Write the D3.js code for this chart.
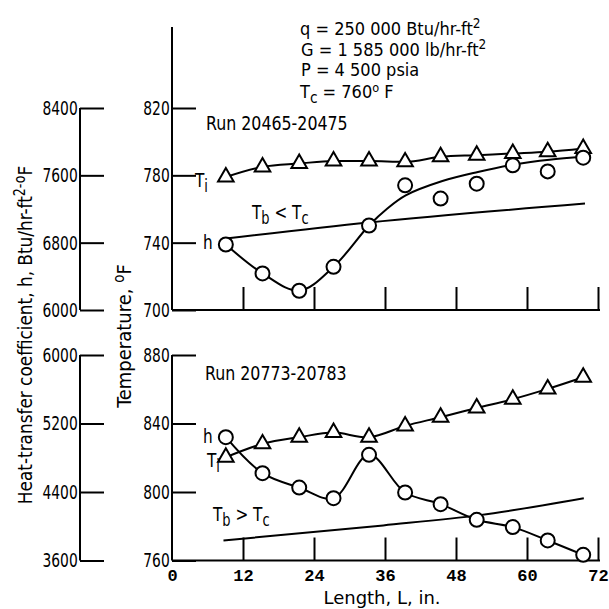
<!DOCTYPE html>
<html>
<head>
<meta charset="utf-8">
<script src="https://cdn.jsdelivr.net/npm/d3@7"></script>
<style>
  html, body { margin: 0; padding: 0; background: #fff; }
  svg text { font-family: "DejaVu Sans Condensed", "DejaVu Sans", sans-serif; font-stretch: condensed; fill: #000; }
  svg text.mono { font-family: "Liberation Mono", "DejaVu Sans Mono", monospace; font-stretch: normal; font-weight: bold; }
  svg text.wide { font-family: "DejaVu Sans", sans-serif; font-stretch: normal; }
</style>
</head>
<body>
<svg id="chart" width="609" height="609"></svg>
<script>
// ---------------- data ----------------
const xTicks = [0, 12, 24, 36, 48, 60, 72];
const tempTicksTop = [700, 740, 780, 820];
const hTicksTop = [6000, 6800, 7600, 8400];
const tempTicksBot = [760, 800, 840, 880];
const hTicksBot = [3600, 4400, 5200, 6000];

// measurement stations, L (in.)
const stations = [9.1, 15.3, 21.5, 27.3, 33.3, 39.4, 45.4, 51.5, 57.6, 63.5, 69.5];

// Run 20465-20475 (Tb < Tc)
const tiTop = [779, 785, 787, 788.5, 788.5, 788, 791, 792, 793, 794, 796];
const hTop  = [6778, 6435, 6229, 6513, 7004, 7481, 7324, 7501, 7719, 7647, 7810];
const hFitTopL = [9.1, 15.3, 21.5, 27.3, 33.3, 36.4, 39.5, 45.7, 51.7, 57.9, 63.8, 69.6];
const hFitTop  = [6778, 6435, 6229, 6513, 7004, 7206, 7362, 7532, 7640, 7730, 7786, 7820];
const tbTopL = [9.1, 33.3, 69.8];
const tbTop  = [742.5, 752, 763.2];

// Run 20773-20783 (Tb > Tc)
const tiBot = [820.3, 828.1, 832, 834.7, 832, 838.6, 843.7, 849.1, 854.2, 860.2, 867];
const hBot  = [5040, 4620, 4452, 4328, 4834, 4394, 4258, 4075, 3990, 3834, 3666];
const tbBotL = [8.7, 35.7, 52, 69.6];
const tbBot  = [771.7, 780.5, 786.5, 796.4];

// ---------------- chart ----------------
const svg = d3.select("#chart");
svg.append("rect").attr("width", 609).attr("height", 609).attr("fill", "#fff");

const x = d3.scaleLinear().domain([0, 72]).range([172, 598]);
const yT1 = d3.scaleLinear().domain([700, 820]).range([310, 108]);
const yH1 = d3.scaleLinear().domain([6000, 8400]).range([310, 108]);
const yT2 = d3.scaleLinear().domain([760, 880]).range([560.5, 355]);
const yH2 = d3.scaleLinear().domain([3600, 6000]).range([560.5, 355]);

const SW = 2;
const fs = 20;

function vAxis(scale, ticks, xPos, yTopLine) {
  const g = svg.append("g").attr("transform", `translate(${xPos},0)`)
    .call(d3.axisLeft(scale).tickValues(ticks).tickSize(-24).tickSizeOuter(0).tickPadding(3).tickFormat(d3.format("d")));
  g.attr("font-family", null).attr("font-size", null);
  g.select(".domain").remove();
  g.selectAll(".tick line").attr("stroke", "#000").attr("stroke-width", SW);
  g.selectAll(".tick text").attr("font-size", fs).attr("transform", "scale(0.77,1)");
  const r = scale.range();
  g.append("line").attr("x1", 0).attr("x2", 0)
    .attr("y1", yTopLine !== undefined ? yTopLine : Math.min(r[0], r[1])).attr("y2", Math.max(r[0], r[1]))
    .attr("stroke", "#000").attr("stroke-width", SW);
  return g;
}

vAxis(yT1, tempTicksTop, 172, 27);
vAxis(yH1, hTicksTop, 80);
vAxis(yT2, tempTicksBot, 172);
vAxis(yH2, hTicksBot, 80);

function hAxis(yPos, labels) {
  const g = svg.append("g").attr("transform", `translate(0,${yPos})`)
    .call(d3.axisTop(x).tickValues(xTicks.filter(d => d > 0)).tickSize(23).tickSizeOuter(0).tickFormat(""));
  g.select(".domain").remove();
  g.selectAll(".tick line").attr("stroke", "#000").attr("stroke-width", SW);
  g.append("line").attr("x1", x(0)).attr("x2", x(72) + 2).attr("stroke", "#000").attr("stroke-width", SW);
  if (labels) {
    const gl = svg.append("g").attr("transform", `translate(0,${yPos})`)
      .call(d3.axisBottom(x).tickValues(xTicks).tickSize(0).tickPadding(8).tickFormat(d3.format("d")));
    gl.attr("font-family", null).attr("font-size", null);
    gl.select(".domain").remove();
    gl.selectAll(".tick text").attr("class", "mono").attr("font-size", 17);
  }
}
hAxis(310, false);
hAxis(560.5, true);

// lines
function drawLine(xs, ys, yScale, curve) {
  const pts = xs.map((d, i) => [d, ys[i]]);
  svg.append("path")
    .attr("d", d3.line().x(d => x(d[0])).y(d => yScale(d[1])).curve(curve)(pts))
    .attr("fill", "none").attr("stroke", "#000").attr("stroke-width", SW);
}
drawLine(stations, tiTop, yT1, d3.curveMonotoneX);
drawLine(hFitTopL, hFitTop, yH1, d3.curveCatmullRom.alpha(0.5));
drawLine(tbTopL, tbTop, yT1, d3.curveMonotoneX);
drawLine(stations, tiBot, yT2, d3.curveCatmullRom.alpha(0.5));
drawLine(stations, hBot, yH2, d3.curveCatmullRom.alpha(0.5));
drawLine(tbBotL, tbBot, yT2, d3.curveMonotoneX);

// markers
const tri = d3.symbol().type(d3.symbolTriangle).size(105);
function triangles(vals, yScale) {
  svg.append("g").selectAll("path").data(vals).join("path")
    .attr("d", tri)
    .attr("transform", (d, i) => `translate(${x(stations[i])},${yScale(d)})`)
    .attr("fill", "#fff").attr("stroke", "#000").attr("stroke-width", SW);
}
function circles(vals, yScale) {
  svg.append("g").selectAll("circle").data(vals).join("circle")
    .attr("cx", (d, i) => x(stations[i])).attr("cy", d => yScale(d)).attr("r", 7)
    .attr("fill", "#fff").attr("stroke", "#000").attr("stroke-width", SW);
}
triangles(tiTop, yT1);
circles(hTop, yH1);
triangles(tiBot, yT2);
circles(hBot, yH2);

// ---------------- text ----------------
// parts: plain strings, {sub:"..."} or {sup:"..."}
function txt(xp, yp, parts, o) {
  o = o || {};
  const size = o.size || fs, sx = o.sx || 0.85;
  const supUp = o.supUp || 7, supScale = o.supScale || 0.75;
  const t = svg.append("text")
    .attr("transform", `translate(${xp},${yp})${o.rotate ? " rotate(" + o.rotate + ")" : ""} scale(${sx},1)`)
    .attr("font-size", size)
    .attr("text-anchor", o.anchor || "start");
  if (o.cls) t.attr("class", o.cls);
  let shift = 0;
  parts.forEach(p => {
    const s = t.append("tspan");
    if (typeof p === "string") {
      s.attr("dy", -shift).text(p); shift = 0;
    } else if (p.sub) {
      s.attr("dy", 5 - shift).attr("font-size", size * 0.85).text(p.sub); shift = 5;
    } else if (p.sup) {
      s.attr("dy", -supUp - shift).attr("font-size", size * supScale).text(p.sup); shift = -supUp;
    }
  });
  return t;
}

const ann = {size: 18, sx: 1.0};
txt(300, 35, ["q = 250 000 Btu/hr-ft", {sup: "2"}], ann);
txt(301, 55.5, ["G = 1 585 000 lb/hr-ft", {sup: "2"}], ann);
txt(301, 75.5, ["P = 4 500 psia"], ann);
txt(300, 97.5, ["T", {sub: "c"}, " = 760", {sup: "o"}, " F"], {size: 18, sx: 1.0, supUp: 6, supScale: 0.7});
txt(206, 130, ["Run 20465-20475"], {sx: 0.88});
txt(205, 380, ["Run 20773-20783"], {sx: 0.88});

txt(195, 187, ["T", {sub: "i"}]);
txt(203, 249, ["h"]);
txt(252, 219, ["T", {sub: "b"}, " < T", {sub: "c"}]);
txt(203, 443, ["h"]);
txt(207, 467, ["T", {sub: "i"}]);
txt(213, 521, ["T", {sub: "b"}, " > T", {sub: "c"}]);

// axis titles
txt(382, 604, ["Length, L, in."], {size: 18, sx: 1.0, anchor: "middle", cls: "wide"});
txt(32, 335, ["Heat-transfer coefficient, h, Btu/hr-ft", {sup: "2-o"}, "F"], {size: 20, sx: 0.94, rotate: -90, anchor: "middle"});
txt(131, 336, ["Temperature, ", {sup: "o"}, "F"], {size: 20, sx: 1.0, rotate: -90, anchor: "middle"});
</script>
</body>
</html>
